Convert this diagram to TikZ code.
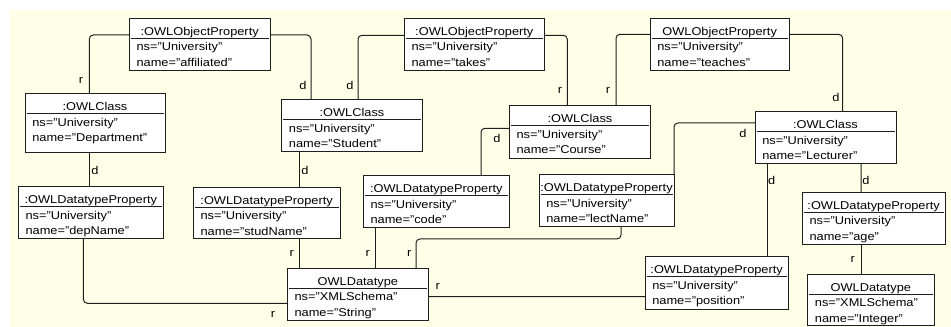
\documentclass[tikz,border=0pt]{standalone}
\usepackage{fontspec}
\setmainfont{Liberation Sans}[FakeStretch=1.13]
\usetikzlibrary{calc}
\definecolor{bgcream}{RGB}{255,255,232}
\definecolor{ink}{RGB}{30,30,30}
\tikzset{
  objbox/.style={draw=ink, fill=white, line width=0.75pt, inner sep=0pt, outer sep=0pt},
  ttl/.style={font=\fontsize{8.5pt}{10pt}\selectfont, inner sep=0pt},
  txt/.style={font=\fontsize{8.5pt}{10pt}\selectfont, inner sep=0pt},
  sepline/.style={draw=ink, line width=0.75pt},
  conn/.style={draw=ink, line width=0.75pt, rounded corners=3pt},
  lbl/.style={font=\fontsize{8.5pt}{10pt}\selectfont, inner sep=0pt, anchor=center}
}
\newcommand\umlobj[8]{%
  \node[objbox, anchor=north west, minimum width={(#4-#2)*0.75pt}, minimum height={(#5-#3)*0.75pt}] (#1) at (#2,#3) {};
  \node[ttl, anchor=base] (#1t) at ($(#1.north)+(0,17)$) {#6};
  \draw[sepline] ($(#1.north west)+(1.5,20)$) -- ($(#1.north east)+(-1.5,20)$);
  \node[txt, anchor=base west] (#1a) at ($(#1.north west)+(7,32.5)$) {ns="#7"};
  \node[txt, anchor=base west] (#1b) at ($(#1.north west)+(7,48)$) {name="#8"};
}
\begin{document}
\begin{tikzpicture}[x=0.75pt,y=-0.75pt]
\useasboundingbox (0,0) rectangle (951,327);
\fill[white] (0,0) rectangle (951,327);
\fill[bgcream] (10,10) rectangle (951,327);

% boxes
\umlobj{aff}{129.3}{18.3}{270}{70.7}{:OWLObjectProperty}{University}{affiliated}
\umlobj{takes}{404.3}{18.3}{544.3}{70.3}{:OWLObjectProperty}{University}{takes}
\umlobj{teach}{650}{18.3}{789.3}{70.7}{OWLObjectProperty}{University}{teaches}
\umlobj{dep}{25}{94}{165}{152.3}{:OWLClass}{University}{Department}
\umlobj{stu}{281.7}{100}{422.3}{151.7}{:OWLClass}{University}{Student}
\umlobj{crs}{509.3}{105.7}{650.7}{158.3}{:OWLClass}{University}{Course}
\umlobj{lec}{755}{111.7}{896}{163.3}{:OWLClass}{University}{Lecturer}
\umlobj{depN}{18.3}{186.7}{163.3}{239}{:OWLDatatypeProperty}{University}{depName}
\umlobj{studN}{193.3}{187.3}{340}{239}{:OWLDatatypeProperty}{University}{studName}
\umlobj{code}{363.3}{176}{509.3}{227.7}{:OWLDatatypeProperty}{University}{code}
\umlobj{lectN}{539}{175}{674}{226.7}{:OWLDatatypeProperty}{University}{lectName}
\umlobj{str}{287.3}{268.3}{428.3}{321}{OWLDatatype}{XMLSchema}{String}
\umlobj{pos}{645}{256.7}{788.3}{309.3}{:OWLDatatypeProperty}{University}{position}
\umlobj{age}{802.3}{192.3}{945}{244.3}{:OWLDatatypeProperty}{University}{age}
\umlobj{int}{807.7}{274.3}{934}{326}{OWLDatatype}{XMLSchema}{Integer}

% connectors
\draw[conn] ($(aff.north west)+(0,16.7)$) -| ($(dep.north west)+(64.3,0)$);
\draw[conn] ($(aff.north east)+(0,16.7)$) -| ($(stu.north west)+(29.3,0)$);
\draw[conn] ($(takes.north west)+(0,17)$) -| ($(stu.north west)+(76.3,0)$);
\draw[conn] ($(takes.north east)+(0,17)$) -| ($(crs.north west)+(58,0)$);
\draw[conn] ($(teach.north west)+(0,16)$) -| ($(crs.north west)+(106.7,0)$);
\draw[conn] ($(teach.north east)+(0,16)$) -| ($(lec.north west)+(87.7,0)$);
\draw[conn] ($(crs.north west)+(0,22.6)$) -| ($(code.north west)+(117.7,0)$);
\draw[conn] ($(lec.north west)+(0,11.3)$) -| (lectN.north east);
\draw[conn] ($(dep.south west)+(64.3,0)$) -- ($(depN.north west)+(71,0)$);
\draw[conn] ($(stu.south west)+(17.6,0)$) -- ($(studN.north west)+(106,0)$);
\draw[conn] ($(studN.south west)+(106,0)$) -- ($(str.north west)+(12,0)$);
\draw[conn] ($(depN.south west)+(65,0)$) |- ($(str.north west)+(0,35)$);
\draw[conn] ($(code.south west)+(12.4,0)$) -- ($(str.north west)+(88.4,0)$);
\draw[conn] ($(lectN.south west)+(82,0)$) -- ++(0,12.3) -| ($(str.north west)+(128.7,0)$);
\draw[conn] ($(str.north east)+(0,28.4)$) -- ($(pos.north west)+(0,40)$);
\draw[conn] ($(lec.south west)+(12.3,0)$) -- ($(pos.north west)+(122.3,0)$);
\draw[conn] ($(lec.south west)+(106,0)$) -- ($(age.north west)+(58.7,0)$);
\draw[conn] ($(age.south west)+(58.7,0)$) -- ($(int.north west)+(53.3,0)$);

% labels
\node[lbl] (la) at (81,80) {r};
\node[lbl] (lb) at (303,85) {d};
\node[lbl] (lc) at (350,85) {d};
\node[lbl] (ld) at (560,90) {r};
\node[lbl] (le) at (608,90) {r};
\node[lbl] (lf) at (836,97) {d};
\node[lbl] (lg) at (497,138) {d};
\node[lbl] (lh) at (743,133) {d};
\node[lbl] (li) at (95,170) {d};
\node[lbl] (lj) at (305,170) {d};
\node[lbl] (lk) at (291.7,253.3) {r};
\node[lbl] (ll) at (273,314) {r};
\node[lbl] (lm) at (367.7,253.3) {r};
\node[lbl] (ln) at (409.3,253.3) {r};
\node[lbl] (lo) at (437.7,286.7) {r};
\node[lbl] (lp) at (771.7,180) {d};
\node[lbl] (lq) at (866,180) {d};
\node[lbl] (lr) at (852.7,259.3) {r};
\end{tikzpicture}
\end{document}
